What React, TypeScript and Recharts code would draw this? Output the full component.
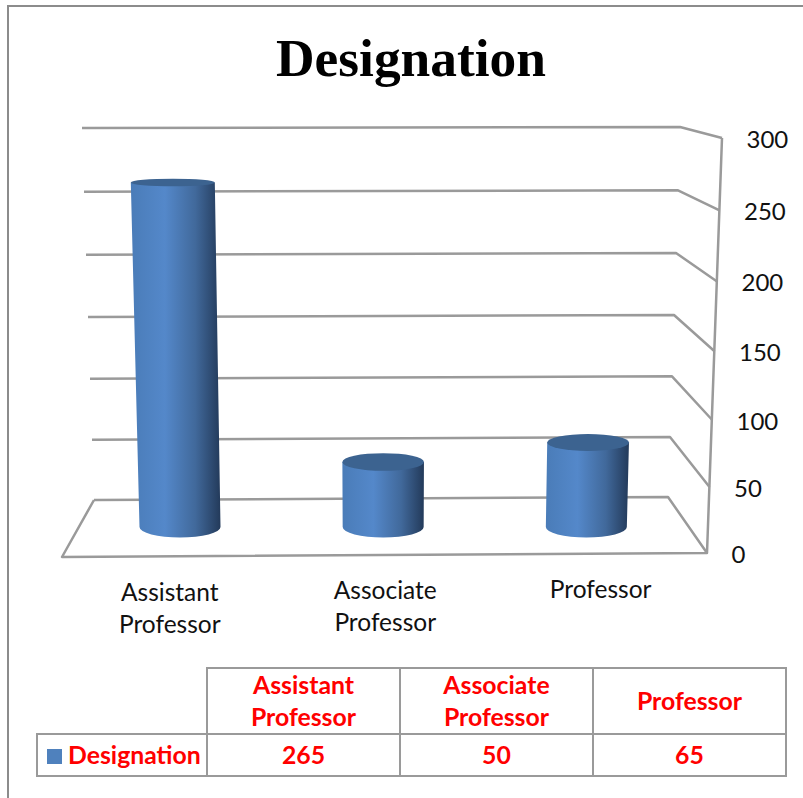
import { BarChart, Bar, XAxis, YAxis, CartesianGrid } from "recharts";

const categories = ["Assistant Professor", "Associate Professor", "Professor"];
const designationValues = [265, 50, 65];
const yTicks = [0, 50, 100, 150, 200, 250, 300];
const seriesName = "Designation";

const rows = categories.map((name, i) => ({ name, value: designationValues[i] }));

const C = {
  line: "#9a9a9a",
  frame: "#8c8c8c",
  ink: "#111111",
  red: "#ff0000",
  swatch: "#4f81bd",
  cap: "#3c6390",
};
const LABEL_FONT = "Lato, 'Open Sans', sans-serif";

const PLOT_TOP = 137;
const PLOT_BOTTOM = 527;
const PLOT_H = PLOT_BOTTOM - PLOT_TOP;
const MID_X = 383.5;

// 0 at the floor, 1 at the top of the axis
const frac = (y: number) => (PLOT_BOTTOM - y) / PLOT_H;

// perspective wall: one scale line turned into back wall + side wall
function WallLine(props: any) {
  const t = frac(props.y1);
  const leftX = 94 - 12 * t;
  const leftY = 500 - 360 * t - 12 * t * t;
  const backX = 668 + 12 * t;
  const backY = 497 - 358 * t - 12 * t * t;
  const frontX = 707 + 15 * t;
  const frontY = 553 - 392 * t - 23 * t * t;
  const isFloor = t < 0.001;
  return (
    <g fill="none" stroke={C.line} strokeWidth={2.5} strokeLinejoin="round">
      <polyline points={`${leftX},${leftY} ${backX},${backY} ${frontX},${frontY}`} />
      {isFloor && <polyline points={`${leftX},${leftY} 62,557 707,553 722,138`} />}
    </g>
  );
}

function Cylinder(props: any) {
  const { x, y, width, height } = props;
  const base = x + width / 2;
  const t = height / PLOT_H;
  const lean = (base - MID_X) * 0.04 * t;
  const w = width + 3.4 * t;
  const topCx = base + lean;
  const topRy = 10 - 7 * t;
  const botRy = 10.5;
  const bottom = y + height;
  const side =
    `M${topCx - w / 2},${y} L${base - width / 2},${bottom} ` +
    `A${width / 2},${botRy} 0 0 0 ${base + width / 2},${bottom} ` +
    `L${topCx + w / 2},${y} Z`;
  return (
    <g>
      <path d={side} fill="url(#cylGrad)" />
      <ellipse cx={topCx} cy={y} rx={w / 2} ry={topRy} fill={C.cap} />
    </g>
  );
}

function CategoryTick(props: any) {
  const { x, payload } = props;
  const cx = x + 2 + (x - MID_X) * 0.0603;
  const baseline = 599.2 - (x - MID_X) * 0.0074;
  const words = String(payload.value).split(" ");
  return (
    <text textAnchor="middle" fontFamily={LABEL_FONT} fontSize={24.5} fill={C.ink}>
      {words.map((w, i) => (
        <tspan key={w} x={cx} y={baseline + i * 32}>{w}</tspan>
      ))}
    </text>
  );
}

function ValueTick(props: any) {
  const { y, payload } = props;
  const t = frac(y);
  return (
    <text
      x={731.5 + 15 * t}
      y={563 - 392 * t - 23 * t * t}
      fontFamily={LABEL_FONT}
      fontSize={24}
      fill={C.ink}
    >
      {payload.value}
    </text>
  );
}

const cellBorder = `2px solid ${C.line}`;
const cell: React.CSSProperties = {
  border: cellBorder,
  padding: 0,
  textAlign: "center",
  verticalAlign: "middle",
  color: C.red,
  fontFamily: LABEL_FONT,
  fontWeight: 700,
  fontSize: 24.8,
  lineHeight: "32px",
};

export default function App() {
  return (
    <div style={{ position: "absolute", left: 0, top: 0, width: 803, height: 798, overflow: "hidden", background: "#fff" }}>
      <div style={{ position: "absolute", left: 7, top: 5, right: -4, bottom: -4, borderLeft: `2px solid ${C.frame}`, borderTop: `2px solid ${C.frame}` }} />
      <div
        style={{
          position: "absolute",
          left: 0,
          width: 822,
          top: 26,
          textAlign: "center",
          fontFamily: "'Liberation Serif', serif",
          fontWeight: 700,
          fontSize: 53.4,
          lineHeight: "64px",
          color: "#000",
        }}
      >
        {seriesName}
      </div>

      <div style={{ position: "absolute", left: 0, top: 0 }}>
        <BarChart
          width={803}
          height={660}
          data={rows}
          margin={{ top: PLOT_TOP, left: 78.5, right: 0, bottom: 0 }}
          barSize={81}
        >
          <defs>
            <linearGradient id="cylGrad" x1="0" y1="0" x2="1" y2="0">
              <stop offset="0%" stopColor="#4a7cb8" />
              <stop offset="38%" stopColor="#5488ca" />
              <stop offset="72%" stopColor="#41699b" />
              <stop offset="100%" stopColor="#233a5a" />
            </linearGradient>
          </defs>
          <CartesianGrid vertical={false} horizontal={(p: any) => <WallLine key={p.key ?? p.index} {...p} />} />
          <XAxis dataKey="name" height={660 - PLOT_BOTTOM} axisLine={false} tickLine={false} tick={<CategoryTick />} interval={0} />
          <YAxis
            orientation="right"
            width={115}
            domain={[0, 300]}
            ticks={yTicks}
            axisLine={false}
            tickLine={false}
            tick={<ValueTick />}
          />
          <Bar dataKey="value" name={seriesName} shape={<Cylinder />} isAnimationActive={false} />
        </BarChart>
      </div>

      <table
        style={{
          position: "absolute",
          left: 36,
          top: 667,
          width: 749,
          height: 108,
          borderCollapse: "collapse",
          tableLayout: "fixed",
        }}
      >
        <colgroup>
          <col style={{ width: 170 }} />
          <col style={{ width: 193 }} />
          <col style={{ width: 193 }} />
          <col style={{ width: 193 }} />
        </colgroup>
        <tbody>
          <tr style={{ height: 65 }}>
            <td style={{ ...cell, borderTop: "none", borderLeft: "none" }} />
            {categories.map((c) => (
              <td key={c} style={cell}>
                {c.split(" ").map((w) => (
                  <div key={w}>{w}</div>
                ))}
              </td>
            ))}
          </tr>
          <tr style={{ height: 42 }}>
            <td style={{ ...cell, textAlign: "left", paddingLeft: 9, whiteSpace: "nowrap" }}>
              <span style={{ display: "inline-block", width: 15, height: 15, background: C.swatch, marginRight: 6 }} />
              {seriesName}
            </td>
            {designationValues.map((v, i) => (
              <td key={categories[i]} style={cell}>{v}</td>
            ))}
          </tr>
        </tbody>
      </table>
    </div>
  );
}
